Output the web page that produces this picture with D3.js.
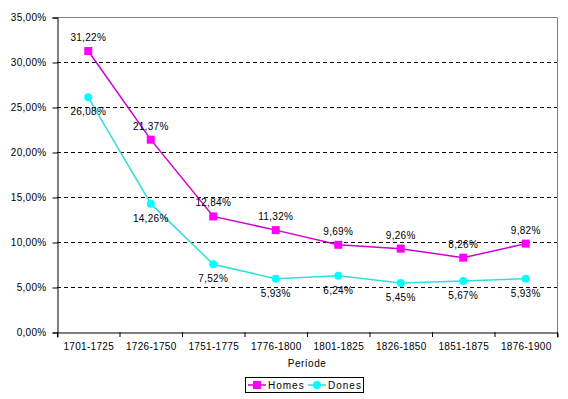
<!DOCTYPE html>
<html><head><meta charset="utf-8">
<script src="https://cdn.jsdelivr.net/npm/d3@7"></script>
<style>body{margin:0;background:#fff}text{font-family:"Liberation Sans",Arial,sans-serif;fill:#000}</style>
</head><body>
<svg id="c" width="568" height="399"></svg>
<script>
const categories = ["1701-1725","1726-1750","1751-1775","1776-1800","1801-1825","1826-1850","1851-1875","1876-1900"];
const homes = [31.22,21.37,12.84,11.32,9.69,9.26,8.26,9.82];
const dones = [26.08,14.26,7.52,5.93,6.24,5.45,5.67,5.93];
const yTicks = [0,5,10,15,20,25,30,35];

const svg = d3.select("#c");
const L=57,R=557,T=17,B=332;
const x = d3.scaleBand().domain(categories).range([L,R]);
const y = d3.scaleLinear().domain([0,35]).range([B,T]);
const fmt = v => d3.format(".2f")(v).replace(".",",")+"%";

// grid
svg.append("g").selectAll("line").data(yTicks.filter(d=>d>0&&d<35)).join("line")
  .attr("x1",L).attr("x2",R).attr("y1",d=>y(d)+0.5).attr("y2",d=>y(d)+0.5)
  .attr("stroke","#000").attr("stroke-dasharray","4,3");
// top/right border
svg.append("path").attr("d",`M${L},${T+0.5}H${R+0.5}V${B}`).attr("fill","none").attr("stroke","#808080");

// axes
const ya = svg.append("g").attr("transform",`translate(${L+0.5},0.5)`)
  .call(d3.axisLeft(y).tickValues(yTicks).tickSize(5).tickFormat(fmt));
const xa = svg.append("g").attr("transform",`translate(0.5,${B+0.5})`)
  .call(d3.axisBottom(x).tickSize(5).tickSizeOuter(5));
[ya,xa].forEach(a=>{a.select(".domain").attr("stroke","#000");a.selectAll("line").attr("stroke","#000");
  a.selectAll("text").attr("font-size","10px").attr("font-family","Liberation Sans,Arial,sans-serif").attr("letter-spacing","0.3px");});
ya.selectAll("text").attr("x",-11);
// x tick marks at band boundaries
xa.selectAll(".tick line").remove();
svg.append("g").selectAll("line").data(d3.range(categories.length+1)).join("line")
  .attr("x1",i=>L+i*x.step()+0.5).attr("x2",i=>L+i*x.step()+0.5).attr("y1",B).attr("y2",B+5).attr("stroke","#000");
xa.selectAll("text").attr("y",8).attr("dy","0.9em");

svg.append("text").attr("x",(L+R)/2).attr("y",367).attr("text-anchor","middle").attr("font-size","10px").attr("letter-spacing","0.5px").text("Període");

const cx = d => x(d)+x.bandwidth()/2;
const line = d3.line().x((d,i)=>cx(categories[i])).y(d=>y(d));
const series = [
  {data:homes,line:"#d000d0",mark:"#ff00ff",shape:"sq",dy:-10},
  {data:dones,line:"#33dddd",mark:"#00ffff",shape:"ci",dy:18}
];
series.forEach(s=>{
  svg.append("path").datum(s.data).attr("d",line).attr("fill","none").attr("stroke",s.line).attr("stroke-width",1.5);
  const g = svg.append("g");
  if(s.shape==="sq"){
    g.selectAll("rect").data(s.data).join("rect").attr("x",(d,i)=>cx(categories[i])-4).attr("y",d=>y(d)-4)
      .attr("width",8).attr("height",8).attr("fill",s.mark);
  } else {
    g.selectAll("circle").data(s.data).join("circle").attr("cx",(d,i)=>cx(categories[i])).attr("cy",d=>y(d))
      .attr("r",4).attr("fill",s.mark);
  }
  svg.append("g").selectAll("text").data(s.data).join("text")
    .attr("x",(d,i)=>cx(categories[i])).attr("y",d=>y(d)+s.dy).attr("text-anchor","middle")
    .attr("font-size","10px").attr("letter-spacing","0.3px").text(fmt);
});

// legend
const lg = svg.append("g");
lg.append("rect").attr("x",245.5).attr("y",377.5).attr("width",118).attr("height",15).attr("fill","#fff").attr("stroke","#000");
const items=[{n:"Homes",s:series[0],x0:248},{n:"Dones",s:series[1],x0:308}];
items.forEach(it=>{
  lg.append("line").attr("x1",it.x0).attr("x2",it.x0+18).attr("y1",385).attr("y2",385).attr("stroke",it.s.line).attr("stroke-width",1.5);
  if(it.s.shape==="sq") lg.append("rect").attr("x",it.x0+5).attr("y",381).attr("width",8).attr("height",8).attr("fill",it.s.mark);
  else lg.append("circle").attr("cx",it.x0+9).attr("cy",385).attr("r",4).attr("fill",it.s.mark);
  lg.append("text").attr("x",it.x0+20).attr("y",389).attr("font-size","10px").attr("letter-spacing","1px").text(it.n);
});
</script>
</body></html>
